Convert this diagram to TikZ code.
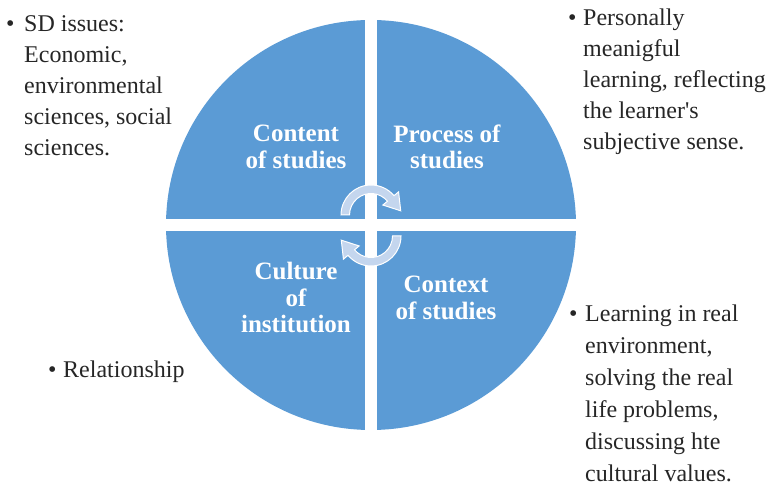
\documentclass[tikz,border=0pt]{standalone}
\usepackage{fontspec}
\setmainfont{Liberation Serif}
\definecolor{pie}{RGB}{91,155,213}
\definecolor{arr}{RGB}{196,214,238}
\definecolor{txt}{RGB}{38,38,38}
\tikzset{
  quad/.style={font=\fontsize{25}{26.5}\selectfont\bfseries, text=white, align=center, inner sep=0pt},
  side/.style={font=\fontsize{24}{31}\selectfont, text=txt, inner sep=0pt, anchor=base west},
  cyclearrow/.style={fill=arr, draw=white, line width=1pt, line join=miter}
}
\newcommand{\sidelist}[3]{\makebox[#1][l]{\textbullet}\parbox[t]{200pt}{\fontsize{24}{#2}\selectfont\raggedright #3}}
\begin{document}
\begin{tikzpicture}[x=1pt,y=1pt]
\useasboundingbox (0,0) rectangle (770,487);
% pie
\fill[pie] (371,262) circle[radius=205];
\fill[white] (365,40) rectangle (377,480);
\fill[white] (150,256) rectangle (590,268);
% cycle arrows
\begin{scope}[shift={(371,272)}]
  \path[cyclearrow] (180:30) arc[start angle=180,end angle=40,radius=30] -- (40:36) -- (8:30) -- (40:15.5) -- (40:21.5) arc[start angle=40,end angle=180,radius=21.5] -- cycle;
\end{scope}
\begin{scope}[shift={(371,251)}, rotate=180]
  \path[cyclearrow] (180:30) arc[start angle=180,end angle=40,radius=30] -- (40:36) -- (8:30) -- (40:15.5) -- (40:21.5) arc[start angle=40,end angle=180,radius=21.5] -- cycle;
\end{scope}
% quadrant labels
\node[quad] (content) at (296,340) {Content\\of studies};
\node[quad] (process) at (447,340) {Process of\\studies};
\node[quad] (culture) at (296,189.5) {Culture\\of\\institution};
\node[quad] (context) at (446,189) {Context\\of studies};
% side texts
\node[side] (sd) at (6,455) {\sidelist{18pt}{31pt}{SD issues:\\Economic,\\environmental\\sciences, social\\sciences.}};
\node[side] (pers) at (568,461) {\sidelist{15pt}{31pt}{Personally\\meanigful\\learning, reflecting\\the learner\textquotesingle s\\subjective sense.}};
\node[side] (learn) at (569,165) {\sidelist{16pt}{31.9pt}{Learning in real\\environment,\\solving the real\\life problems,\\discussing hte\\cultural values.}};
\node[side] (rel) at (48,110) {\sidelist{15pt}{31pt}{Relationship}};
\end{tikzpicture}
\end{document}
